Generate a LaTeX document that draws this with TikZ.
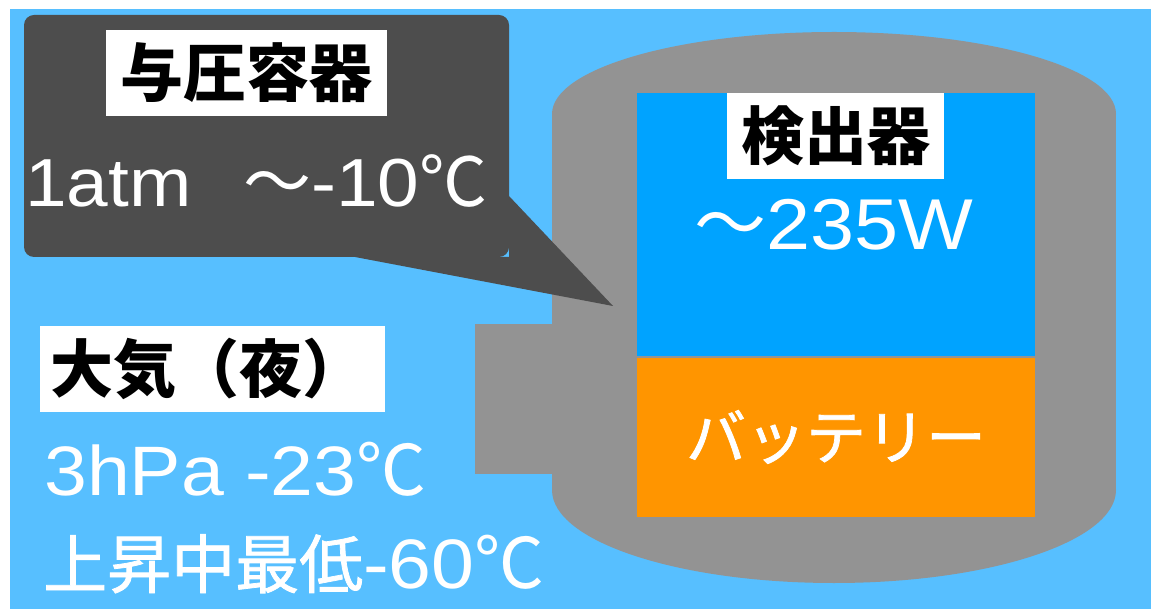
\documentclass[tikz,border=0pt]{standalone}
\usepackage{fontspec}
\setmainfont[FakeStretch=1.1]{Liberation Sans}
\newfontfamily\cjk{Noto Sans CJK JP}
\newfontfamily\cjkmed[FakeBold=1.2]{Noto Sans CJK JP}
\definecolor{skyblue}{RGB}{87,191,255}
\definecolor{vesselgray}{RGB}{147,147,147}
\definecolor{detblue}{RGB}{0,163,255}
\definecolor{battorange}{RGB}{255,149,0}
\definecolor{calloutdark}{RGB}{77,77,77}
\tikzset{
  labelbox/.style={fill=white, inner sep=0pt, text=black, font=\cjk\bfseries\fontsize{63}{70}\selectfont},
  whitetext/.style={inner sep=0pt, text=white},
}
\begin{document}
\begin{tikzpicture}[x=1pt,y=-1pt]
\useasboundingbox (0,0) rectangle (1151,609);
\fill[white] (0,0) rectangle (1151,609);
\fill[skyblue] (10,9) rectangle (1151,609);
% vessel (cylinder)
\fill[vesselgray] (834,490) ellipse [x radius=282, y radius=93];
\fill[vesselgray] (552,114) rectangle (1116,490);
\fill[vesselgray] (834,114) ellipse [x radius=282, y radius=82];
\fill[vesselgray] (475,324) rectangle (553,474);
% detector and battery
\fill[detblue] (637,93) rectangle (1035,356);
\fill[battorange] (637,358) rectangle (1035,517);
% callout
\fill[calloutdark, rounded corners=10pt] (24,15) rectangle (509,257);
\fill[calloutdark] (509,196) -- (613,306) -- (355,257) -- (509,257) -- cycle;
% texts
\node[labelbox, minimum width=281pt, minimum height=86pt] (yoatsu) at (246.5,73) {与圧容器};
\node[whitetext, anchor=base west, font=\fontsize{68}{75}\selectfont] (yoatsuval) at (25,207) {1atm\hspace*{52pt}{\cjk ～}-10{\cjk ℃}};
\fill[white] (40,326) rectangle (385,412);
\node[labelbox, fill=none, anchor=west] (taiki) at (50,369) {大気（夜）};
\node[whitetext, anchor=base west, font=\fontsize{70}{78}\selectfont] (taikival) at (44,495) {3hPa -23{\cjk ℃}};
\node[whitetext, anchor=base west, font=\fontsize{70}{78}\selectfont] (minval) at (43,588) {{\cjkmed\fontsize{64}{72}\selectfont 上昇中最低}-60{\cjk ℃}};
\node[labelbox, minimum width=217pt, minimum height=86pt] (kenshutsu) at (835.5,136) {検出器};
\node[whitetext, anchor=base, font=\fontsize{72}{80}\selectfont] (power) at (834,250) {{\cjk ～}235W};
\node[whitetext, font=\cjkmed\fontsize{60}{66}\selectfont] (battery) at (836,437) {バッテリー};
\end{tikzpicture}
\end{document}
